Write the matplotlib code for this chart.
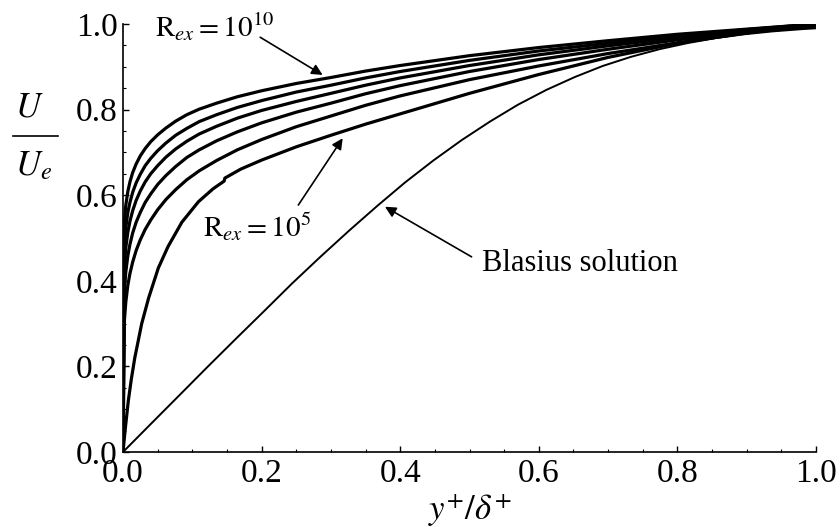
import matplotlib
matplotlib.use("Agg")
import matplotlib.pyplot as plt
from matplotlib.lines import Line2D
from matplotlib.ticker import MultipleLocator, FormatStrFormatter

plt.rcParams["font.family"] = ["Liberation Serif", "DejaVu Serif"]
plt.rcParams["mathtext.fontset"] = "stix"

# y+/delta+ grid shared by the high Reynolds number profiles
X_TURB = [0, 0.0005, 0.001, 0.002, 0.004, 0.007, 0.01, 0.014, 0.019, 0.025,
          0.032, 0.04, 0.05, 0.062, 0.076, 0.092, 0.11, 0.135, 0.165, 0.2,
          0.25, 0.3, 0.35, 0.4, 0.5, 0.6, 0.7, 0.8, 0.9, 1.0]

U_RE10 = [0, 0.30, 0.45, 0.537, 0.576, 0.609, 0.631, 0.653, 0.673, 0.692,
          0.709, 0.725, 0.741, 0.757, 0.773, 0.788, 0.801, 0.815, 0.830, 0.844,
          0.861, 0.875, 0.890, 0.903, 0.926, 0.945, 0.961, 0.976, 0.988, 1.0]
U_RE9 = [0, 0.22, 0.36, 0.483, 0.524, 0.560, 0.583, 0.607, 0.629, 0.649,
         0.669, 0.686, 0.704, 0.722, 0.740, 0.756, 0.772, 0.788, 0.805, 0.821,
         0.841, 0.857, 0.874, 0.889, 0.915, 0.937, 0.955, 0.972, 0.987, 1.0]
U_RE8 = [0, 0.16, 0.28, 0.435, 0.477, 0.514, 0.539, 0.564, 0.588, 0.610,
         0.631, 0.650, 0.669, 0.689, 0.708, 0.726, 0.743, 0.761, 0.780, 0.798,
         0.819, 0.838, 0.857, 0.874, 0.903, 0.928, 0.949, 0.968, 0.985, 1.0]
U_RE7 = [0, 0.11, 0.21, 0.377, 0.420, 0.459, 0.485, 0.512, 0.537, 0.560,
         0.583, 0.603, 0.625, 0.646, 0.667, 0.688, 0.706, 0.727, 0.748, 0.769,
         0.794, 0.815, 0.837, 0.856, 0.889, 0.917, 0.941, 0.963, 0.982, 1.0]
U_RE6 = [0, 0.07, 0.14, 0.307, 0.350, 0.390, 0.417, 0.444, 0.471, 0.496,
         0.520, 0.542, 0.566, 0.590, 0.613, 0.636, 0.657, 0.681, 0.706, 0.730,
         0.760, 0.785, 0.810, 0.832, 0.870, 0.902, 0.931, 0.956, 0.979, 1.0]

# Re_x = 1e5 profile (has a small kink near y/delta = 0.15)
X_RE5 = [0, 0.003, 0.0077, 0.012, 0.017, 0.027, 0.037, 0.051, 0.065, 0.085,
         0.109, 0.13, 0.146, 0.147, 0.17, 0.2, 0.25, 0.3, 0.35, 0.4, 0.5, 0.6,
         0.7, 0.8, 0.9, 1.0]
U_RE5 = [0, 0.05, 0.12, 0.17, 0.22, 0.30, 0.36, 0.43, 0.48, 0.537,
         0.585, 0.615, 0.633, 0.640, 0.661, 0.682, 0.713, 0.740, 0.766, 0.790,
         0.838, 0.882, 0.922, 0.955, 0.98, 0.995]

# Blasius laminar profile
X_BLASIUS = [0, 0.0407, 0.0815, 0.122, 0.163, 0.204, 0.244, 0.285, 0.326, 0.367,
             0.407, 0.448, 0.489, 0.530, 0.570, 0.611, 0.652, 0.692, 0.733, 0.774,
             0.815, 0.855, 0.896, 0.937, 0.978, 1.0]
U_BLASIUS = [0, 0.0664, 0.1328, 0.1989, 0.2647, 0.3298, 0.3938, 0.4563, 0.5168,
             0.5751, 0.6298, 0.6813, 0.7290, 0.7725, 0.8115, 0.8461, 0.8761,
             0.9018, 0.9233, 0.9411, 0.9555, 0.9670, 0.9759, 0.9827, 0.9878, 0.990]

TURB_PROFILES = [U_RE10, U_RE9, U_RE8, U_RE7, U_RE6]
TICKS = [0.0, 0.2, 0.4, 0.6, 0.8, 1.0]


def main() -> None:
    fig = plt.figure(figsize=(8.4, 5.27), dpi=100)
    ax = fig.add_axes([123 / 840, 75 / 527, 693 / 840, 428 / 527])

    for u in TURB_PROFILES:
        ax.plot(X_TURB, u, color="black", lw=2.3)
    ax.plot(X_RE5, U_RE5, color="black", lw=2.3)
    ax.plot(X_BLASIUS, U_BLASIUS, color="black", lw=1.4)

    ax.set_xlim(0, 1)
    ax.set_ylim(0, 1)
    for side in ("top", "right"):
        ax.spines[side].set_visible(False)
    for side in ("left", "bottom"):
        ax.spines[side].set_linewidth(1.2)
    ax.set_xticks(TICKS)
    ax.set_yticks(TICKS)
    ax.xaxis.set_minor_locator(MultipleLocator(0.05))
    ax.yaxis.set_minor_locator(MultipleLocator(0.05))
    ax.xaxis.set_major_formatter(FormatStrFormatter("%.1f"))
    ax.yaxis.set_major_formatter(FormatStrFormatter("%.1f"))
    ax.tick_params(which="major", direction="in", length=4, width=1.0,
                   labelsize=24, pad=4)
    ax.tick_params(which="minor", direction="in", length=2.2, width=0.8)
    ax.tick_params(axis="x", which="major", pad=5)

    ax.set_xlabel(r"$y^{+}/\delta^{+}$", fontsize=25, labelpad=1)

    # U / U_e written as a stacked fraction
    fig.text(29 / 840, 1 - 108 / 527, r"$U$", fontsize=25,
             ha="center", va="center")
    fig.add_artist(Line2D([13 / 840, 58 / 840], [1 - 136 / 527, 1 - 136 / 527],
                          color="black", lw=1.2, transform=fig.transFigure))
    fig.text(34 / 840, 1 - 167 / 527, r"$U_e$", fontsize=25,
             ha="center", va="center")

    arrow = dict(arrowstyle="-|>", color="black", lw=1.2, mutation_scale=16,
                 shrinkA=0, shrinkB=0)
    ax.text(0.046, 0.993, r"$\mathrm{R}_{ex} = 10^{10}$", fontsize=21,
            ha="left", va="center", clip_on=False)
    ax.annotate("", xy=(0.288, 0.881), xytext=(0.198, 0.969),
                arrowprops=arrow)
    ax.text(0.115, 0.525, r"$\mathrm{R}_{ex} = 10^{5}$", fontsize=21,
            ha="left", va="center")
    ax.annotate("", xy=(0.317, 0.733), xytext=(0.253, 0.577),
                arrowprops=arrow)
    ax.text(0.518, 0.44, "Blasius solution", fontsize=22, ha="left",
            va="center")
    ax.annotate("", xy=(0.378, 0.573), xytext=(0.503, 0.456),
                arrowprops=arrow)

    fig.savefig("out.png", dpi=100)
    plt.close(fig)


if __name__ == "__main__":
    main()
